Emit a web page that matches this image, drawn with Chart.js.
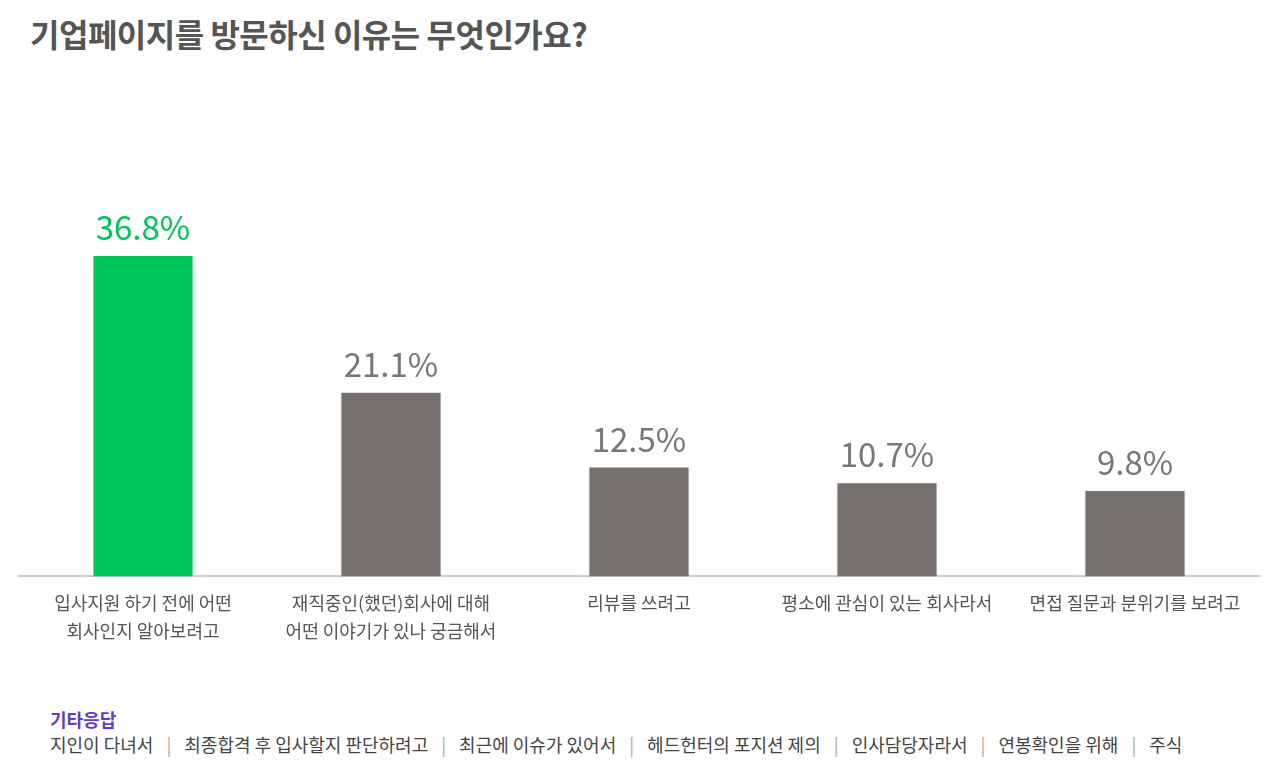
<!DOCTYPE html>
<html>
<head>
<meta charset="utf-8">
<script src="https://cdn.jsdelivr.net/npm/chart.js@4"></script>
<style>
  body { margin: 0; width: 1280px; height: 770px; background: #fff; font-family: "Noto Sans CJK KR", sans-serif; position: relative; overflow: hidden; }
  #title { position: absolute; left: 30px; top: 10px; font-size: 32px; font-weight: bold; color: #555; letter-spacing: -0.5px; }
  #wrap { position: absolute; left: 0; top: 80px; width: 1280px; height: 570px; }
  #etcTitle { position: absolute; left: 50px; top: 706px; font-size: 18px; font-weight: bold; color: #5b3fc8; }
  #etc { position: absolute; left: 50px; top: 731px; font-size: 18px; color: #444; }
  #etc span.sep { color: #aaa; margin: 0 13px; }
</style>
</head>
<body>
<div id="title">기업페이지를 방문하신 이유는 무엇인가요?</div>
<div id="wrap"><canvas id="chart"></canvas></div>
<div id="etcTitle">기타응답</div>
<div id="etc"></div>
<script>
// 카테고리와 값
const categories = [
    ['입사지원 하기 전에 어떤', '회사인지 알아보려고'],
    ['재직중인(했던)회사에 대해', '어떤 이야기가 있나 궁금해서'],
    '리뷰를 쓰려고',
    '평소에 관심이 있는 회사라서',
    '면접 질문과 분위기를 보려고'
];
const values = [36.8, 21.1, 12.5, 10.7, 9.8];
const barColors = ['#00c35a', '#756f6e', '#756f6e', '#756f6e', '#756f6e'];
const labelColors = ['#00c35a', '#777', '#777', '#777', '#777'];
const otherAnswers = ['지인이 다녀서', '최종합격 후 입사할지 판단하려고', '최근에 이슈가 있어서', '헤드헌터의 포지션 제의', '인사담당자라서', '연봉확인을 위해', '주식'];

document.getElementById('etc').innerHTML = otherAnswers.join('<span class="sep">|</span>');

// 막대 위에 퍼센트 표시
const valueLabels = {
    id: 'valueLabels',
    afterDatasetsDraw(chart) {
        const ctx = chart.ctx;
        const meta = chart.getDatasetMeta(0);
        ctx.save();
        ctx.font = '33px "Noto Sans CJK KR", sans-serif';
        ctx.textAlign = 'center';
        ctx.textBaseline = 'bottom';
        meta.data.forEach((bar, i) => {
            ctx.fillStyle = labelColors[i];
            ctx.fillText(values[i].toFixed(1) + '%', bar.x, bar.y - 12);
        });
        ctx.restore();
    }
};

new Chart(document.getElementById('chart'), {
    type: 'bar',
    data: {
        labels: categories,
        datasets: [{
            data: values,
            backgroundColor: barColors,
            barPercentage: 0.4,
            categoryPercentage: 1
        }]
    },
    options: {
        responsive: true,
        maintainAspectRatio: false,
        animation: false,
        layout: { padding: { left: 19, right: 21, top: 0, bottom: 0 } },
        plugins: { legend: { display: false }, tooltip: { enabled: false } },
        scales: {
            y: { display: false, min: 0, max: 57 },
            x: {
                grid: { display: false },
                border: { display: true, color: '#ccc', width: 2 },
                ticks: { color: '#555', font: { size: 18, family: '"Noto Sans CJK KR", sans-serif', lineHeight: 1.6 }, padding: 4, maxRotation: 0 }
            }
        }
    },
    plugins: [valueLabels]
});
</script>
</body>
</html>
